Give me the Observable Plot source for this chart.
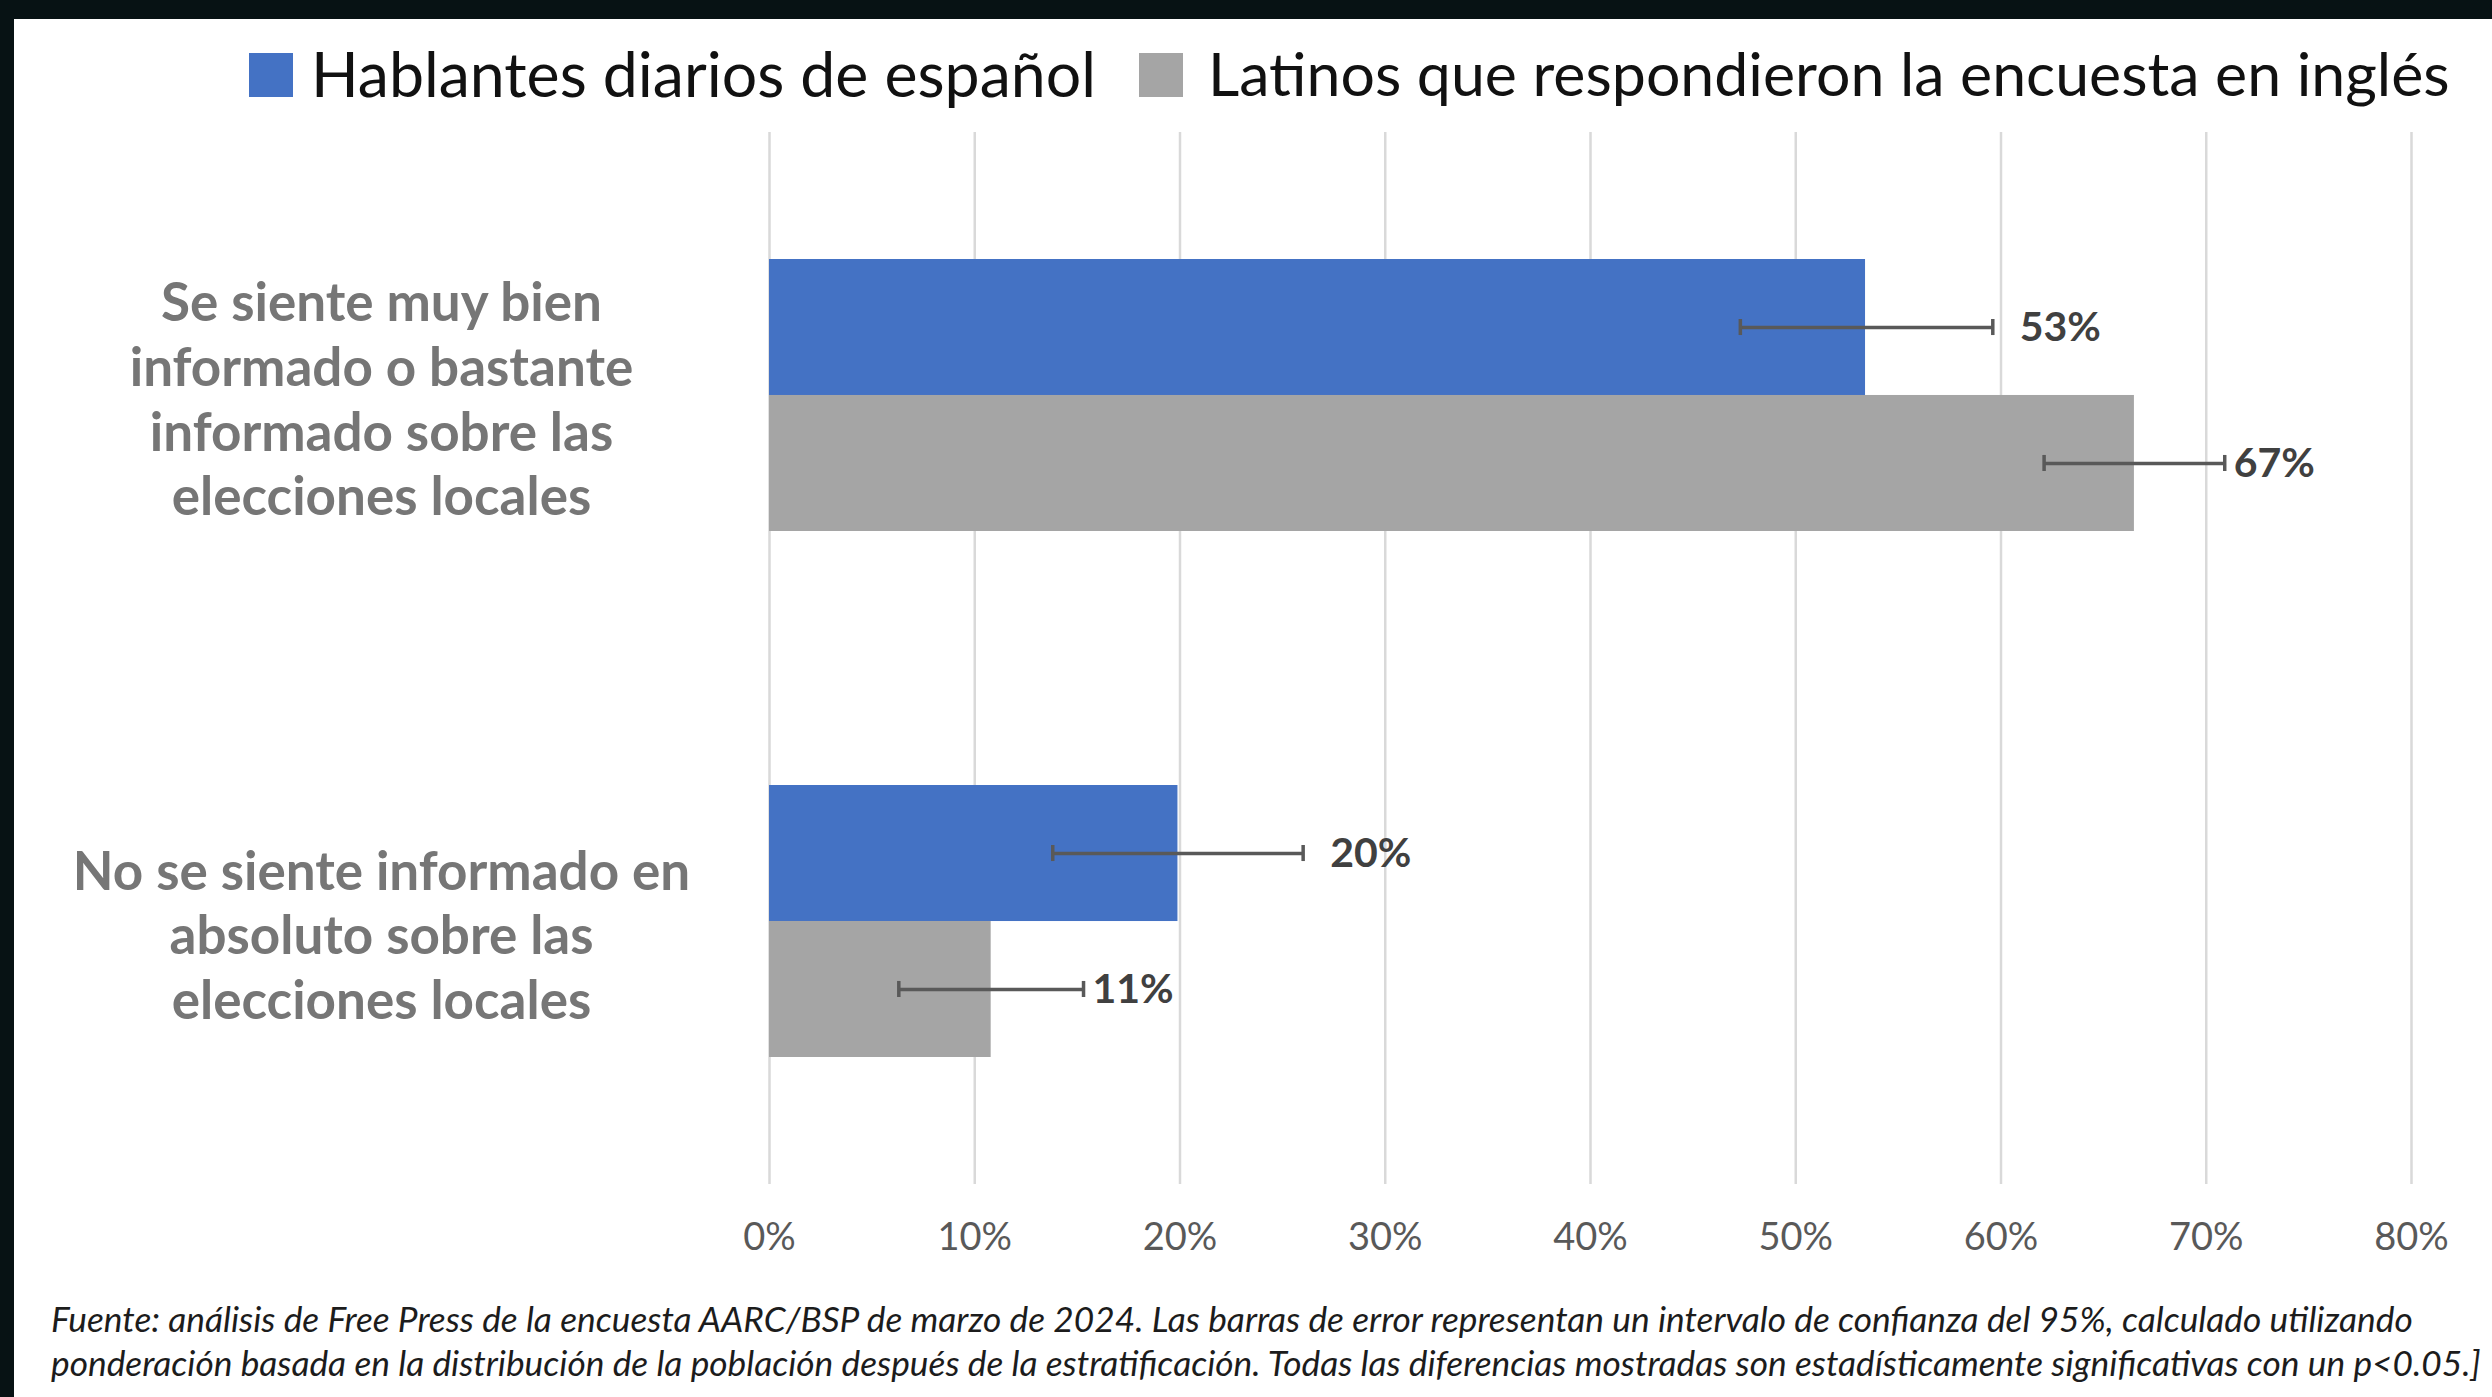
<!DOCTYPE html>
<html><head><meta charset="utf-8">
<script src="https://cdn.jsdelivr.net/npm/d3@7"></script>
<script src="https://cdn.jsdelivr.net/npm/@observablehq/plot@0.6"></script>
<style>
html,body{margin:0;padding:0;background:#071214;}
body{width:2492px;height:1397px;overflow:hidden;position:relative;}
#panel{position:absolute;left:14px;top:19px;width:2478px;height:1378px;background:#fff;}
.sw{position:absolute;width:44px;height:44px;top:34px;}
.lt{position:absolute;top:54px;transform:translateY(-50%);line-height:1;white-space:nowrap;font-family:Lato;font-size:60px;color:#111;}
#chart{position:absolute;left:0;top:101px;}
.cl{position:absolute;left:37px;transform:translateY(-50%);line-height:1;white-space:nowrap;font-family:Lato;font-style:italic;font-size:30px;color:#1c1c1c;}
</style></head>
<body>
<div id="panel">
  <div id="legend"></div>
  <div id="chart"></div>
  <div id="caption"></div>
</div>
<script>
// ---- data ----
const questions = [
  "Se siente muy bien\ninformado o bastante\ninformado sobre las\nelecciones locales",
  "No se siente informado en\nabsoluto sobre las\nelecciones locales"
];
const seriesNames = ["Hablantes diarios de español", "Latinos que respondieron la encuesta en inglés"];
const seriesColors = ["#4472C4", "#A5A5A5"];
const spanishValues = [53.4, 19.9];
const spanishLow = [47.3, 13.8];
const spanishHigh = [59.6, 26.0];
const spanishLabels = ["53%", "20%"];
const englishValues = [66.5, 10.8];
const englishLow = [62.1, 6.3];
const englishHigh = [70.9, 15.3];
const englishLabels = ["67%", "11%"];
const xTicks = [0, 10, 20, 30, 40, 50, 60, 70, 80];
const captionLines = [
  "Fuente: análisis de Free Press de la encuesta AARC/BSP de marzo de 2024. Las barras de error representan un intervalo de confianza del 95%, calculado utilizando",
  "ponderación basada en la distribución de la población después de la estratificación. Todas las diferencias mostradas son estadísticamente significativas con un p<0.05.]"
];

const spanish = questions.map((q, i) => ({q, v: spanishValues[i], lo: spanishLow[i], hi: spanishHigh[i], label: spanishLabels[i]}));
const english = questions.map((q, i) => ({q, v: englishValues[i], lo: englishLow[i], hi: englishHigh[i], label: englishLabels[i]}));

// ---- layout ----
const width = 2478, height = 1160;
const marginTop = 12, marginBottom = 96, marginLeft = 755, marginRight = 81;
const pInner = 0.483, pOuter = 0.2415;
const step = (height - marginTop - marginBottom) / (questions.length - pInner + 2 * pOuter);
const bw = step * (1 - pInner);
const half = bw / 2, quarter = bw / 4, cap = 16;

const errStyle = {stroke: "#595959", strokeWidth: 3.5};
const catStyle = {frameAnchor: "left", dx: -388, textAnchor: "middle", fontSize: 53, fontWeight: "bold", fill: "#767676", lineHeight: 1.22};

const plot = Plot.plot({
  width, height, marginTop, marginBottom, marginLeft, marginRight,
  style: {fontFamily: "Lato", color: "#595959", background: "transparent"},
  x: {domain: [0, 80], axis: null},
  y: {domain: questions, paddingInner: pInner, paddingOuter: pOuter, axis: null},
  marks: [
    Plot.gridX(xTicks, {stroke: "#d9d9d9", strokeOpacity: 1, strokeWidth: 2.5}),
    Plot.axisX(xTicks, {tickFormat: d => d + "%", tickSize: 0, tickPadding: 39, fontSize: 38, fill: "#595959", label: null}),
    Plot.barX(spanish, {x: "v", y: "q", fill: seriesColors[0], insetBottom: half}),
    Plot.barX(english, {x: "v", y: "q", fill: seriesColors[1], insetTop: half}),
    Plot.ruleY(spanish, {y: "q", x1: "lo", x2: "hi", dy: -quarter, ...errStyle}),
    Plot.ruleY(english, {y: "q", x1: "lo", x2: "hi", dy: quarter, ...errStyle}),
    Plot.tickX(spanish, {x: "lo", y: "q", insetTop: quarter - cap / 2, insetBottom: bw - quarter - cap / 2, ...errStyle}),
    Plot.tickX(spanish, {x: "hi", y: "q", insetTop: quarter - cap / 2, insetBottom: bw - quarter - cap / 2, ...errStyle}),
    Plot.tickX(english, {x: "lo", y: "q", insetTop: bw - quarter - cap / 2, insetBottom: quarter - cap / 2, ...errStyle}),
    Plot.tickX(english, {x: "hi", y: "q", insetTop: bw - quarter - cap / 2, insetBottom: quarter - cap / 2, ...errStyle}),
    Plot.text(spanish, {x: "hi", y: "q", text: "label", dy: -quarter, dx: 27, textAnchor: "start", fontSize: 41, fontWeight: "bold", fill: "#404040"}),
    Plot.text(english, {x: "hi", y: "q", text: "label", dy: quarter, dx: 9, textAnchor: "start", fontSize: 41, fontWeight: "bold", fill: "#404040"}),
    Plot.text([questions[0]], {y: d => d, text: d => d, dy: 2, ...catStyle}),
    Plot.text([questions[1]], {y: d => d, text: d => d, dy: 12, ...catStyle})
  ]
});
document.getElementById("chart").appendChild(plot);

// ---- legend ----
const legend = document.getElementById("legend");
const legendPos = [{sw: 235, tx: 297, w: 785}, {sw: 1125, tx: 1194, w: 1242}];
seriesNames.forEach((name, i) => {
  const s = document.createElement("div");
  s.className = "sw"; s.style.left = legendPos[i].sw + "px"; s.style.background = seriesColors[i];
  legend.appendChild(s);
  const t = document.createElement("div");
  t.className = "lt"; t.style.left = legendPos[i].tx + "px"; t.textContent = name;
  legend.appendChild(t);
  const w = t.getBoundingClientRect().width;
  t.style.fontSize = (60 * legendPos[i].w / w) + "px";
});

// ---- caption: two lines sharing one size, fitted to the longer line ----
const caption = document.getElementById("caption");
const capDivs = captionLines.map(line => {
  const d = document.createElement("div");
  d.className = "cl"; d.textContent = line;
  caption.appendChild(d);
  return d;
});
const w2 = capDivs[1].getBoundingClientRect().width;
const fs = 30 * 2430 / w2;
const gap = Math.ceil(fs * 1.2) + 1;
capDivs.forEach((d, i) => {
  d.style.fontSize = fs + "px";
  d.style.top = (1300 + i * gap) + "px";
});
</script>
</body></html>
